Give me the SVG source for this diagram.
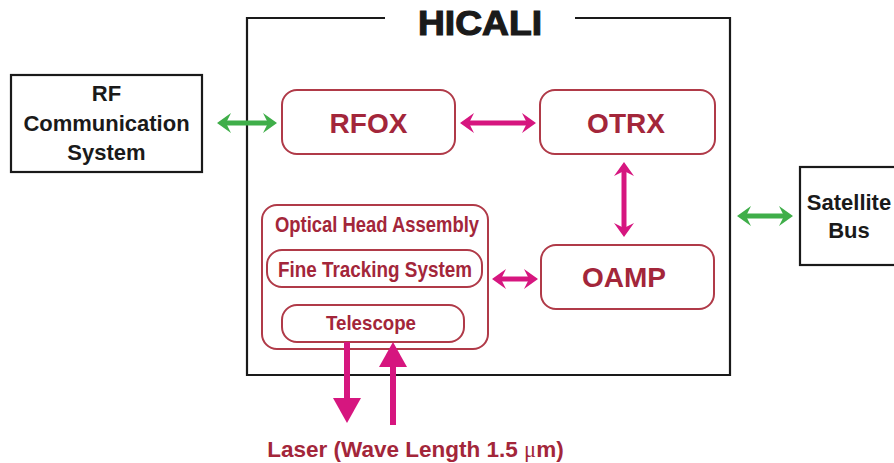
<svg xmlns="http://www.w3.org/2000/svg" width="894" height="463" viewBox="0 0 894 463">
<defs>
<style>
.blk{fill:none;stroke:#1a1a1a;stroke-width:2.2}
.rbox{fill:#fff;stroke:#b03a48;stroke-width:2}
.bt{font-family:"Liberation Sans",Arial,sans-serif;font-weight:bold;fill:#1a1a1a;text-anchor:middle}
.rt{font-family:"Liberation Sans",Arial,sans-serif;font-weight:bold;fill:#a3263a;text-anchor:middle}
.pk{stroke:#d6167f;stroke-width:5;fill:none}
.gr{stroke:#3fae49;stroke-width:5;fill:none}
.lz{stroke:#d6167f;stroke-width:6;fill:none}
</style>
<marker id="mp" markerUnits="userSpaceOnUse" viewBox="0 0 14 20" markerWidth="14" markerHeight="20" refX="6" refY="10" orient="auto-start-reverse">
<path d="M0,0 L14,10 L0,20 L5,10 Z" fill="#d6167f"/>
</marker>
<marker id="mg" markerUnits="userSpaceOnUse" viewBox="0 0 14 20" markerWidth="14" markerHeight="20" refX="6" refY="10" orient="auto-start-reverse">
<path d="M0,0 L14,10 L0,20 L5,10 Z" fill="#3fae49"/>
</marker>
<marker id="mt" markerUnits="userSpaceOnUse" viewBox="0 0 25 28" markerWidth="25" markerHeight="28" refX="2" refY="14" orient="auto">
<path d="M0,0 L25,14 L0,28 Z" fill="#d6167f"/>
</marker>
</defs>

<g id="hicali">
<path class="blk" d="M385,18 L247,18 L247,375 L730,375 L730,18 L575,18" stroke-width="2.5"/>
<text class="bt" x="480" y="35" font-size="35" textLength="124" lengthAdjust="spacingAndGlyphs" stroke="#1a1a1a" stroke-width="1.2">HICALI</text>
</g>

<g id="rf">
<rect class="blk" x="11" y="75" width="191" height="97"/>
<text class="bt" x="106.5" y="101" font-size="22">RF</text>
<text class="bt" x="106.5" y="131" font-size="22">Communication</text>
<text class="bt" x="106.5" y="160" font-size="22">System</text>
</g>

<g id="satbus">
<rect class="blk" x="800" y="167" width="110" height="98"/>
<text class="bt" x="849" y="210" font-size="22">Satellite</text>
<text class="bt" x="849" y="238" font-size="22">Bus</text>
</g>

<g id="rfox">
<rect class="rbox" x="282" y="90" width="173" height="64" rx="15"/>
<text class="rt" x="368.5" y="133" font-size="28">RFOX</text>
</g>

<g id="otrx">
<rect class="rbox" x="540" y="90" width="175" height="64" rx="15"/>
<text class="rt" x="626" y="133" font-size="28">OTRX</text>
</g>

<g id="oamp">
<rect class="rbox" x="541" y="245" width="173" height="64" rx="15"/>
<text class="rt" x="624" y="287" font-size="28">OAMP</text>
</g>

<g id="oha">
<rect class="rbox" x="262" y="205" width="226" height="144" rx="15"/>
<text class="rt" x="377" y="232" font-size="22" textLength="204" lengthAdjust="spacingAndGlyphs">Optical Head Assembly</text>
</g>

<g id="fts">
<rect class="rbox" x="267" y="250" width="215" height="37" rx="15"/>
<text class="rt" x="375" y="277" font-size="22" textLength="194" lengthAdjust="spacingAndGlyphs">Fine Tracking System</text>
</g>

<g id="telescope">
<rect class="rbox" x="282" y="305" width="182" height="37" rx="15"/>
<text class="rt" x="371" y="330" font-size="21" textLength="90" lengthAdjust="spacingAndGlyphs">Telescope</text>
</g>

<g id="laser">
<text class="rt" x="415.5" y="457" font-size="22.5">Laser (Wave Length 1.5 <tspan font-family="'Liberation Serif',serif" font-weight="normal">μ</tspan>m)</text>
</g>

<g id="connectors">
<line class="gr" x1="225" y1="123" x2="269" y2="123" marker-start="url(#mg)" marker-end="url(#mg)"/>
<line class="gr" x1="745" y1="216" x2="785" y2="216" marker-start="url(#mg)" marker-end="url(#mg)"/>
<line class="pk" x1="468" y1="123" x2="528" y2="123" marker-start="url(#mp)" marker-end="url(#mp)"/>
<line class="pk" x1="624" y1="170" x2="624" y2="229" marker-start="url(#mp)" marker-end="url(#mp)"/>
<line class="pk" x1="500" y1="279" x2="530" y2="279" marker-start="url(#mp)" marker-end="url(#mp)"/>
<line class="lz" x1="347" y1="342" x2="347" y2="400" marker-end="url(#mt)"/>
<line class="lz" x1="393" y1="425" x2="393" y2="365" marker-end="url(#mt)"/>
</g>
</svg>
